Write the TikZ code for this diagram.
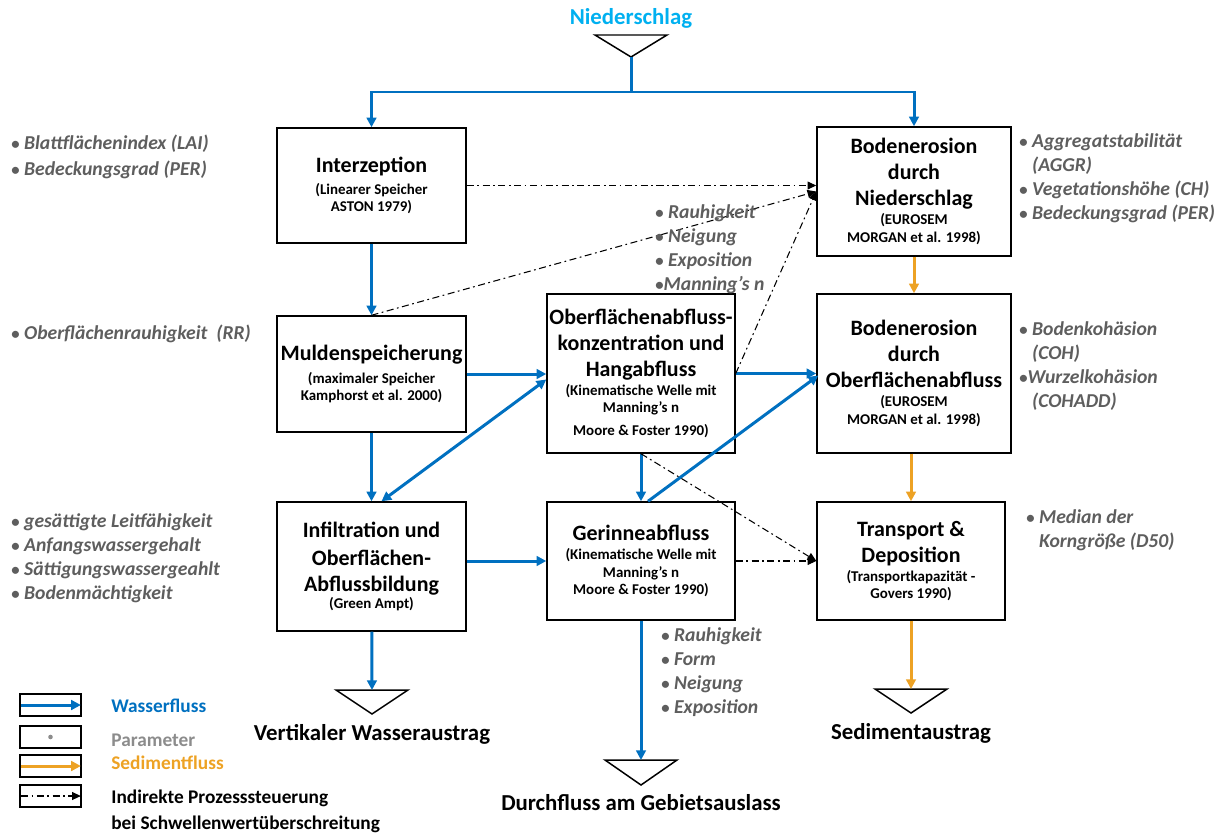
\documentclass[tikz,border=0pt]{standalone}
\usepackage{fontspec}
\setmainfont{Carlito}
\definecolor{WaterBlue}{HTML}{0070C0}
\definecolor{RainCyan}{HTML}{00B0F0}
\definecolor{SedOrange}{HTML}{EDA224}
\definecolor{ParamGray}{HTML}{5E5E5E}
\definecolor{LegendGray}{HTML}{8C8C8C}
\usepackage{tikz}
\usetikzlibrary{arrows.meta, positioning, calc}
\newcommand{\boxtitle}{\fontsize{12.5}{14.8}\selectfont\bfseries}
\newcommand{\boxsub}{\fontsize{8.5}{9.8}\selectfont\bfseries}
\newcommand{\paramfont}{\fontsize{11.2}{13.6}\selectfont\bfseries\itshape}
\newcommand{\pbul}{{\fontsize{9.5}{9.5}\selectfont\upshape\textbullet}\ }
\tikzset{
  % Box styles
  procbox/.style={rectangle, draw=black, line width=0.85pt, fill=white, inner xsep=0pt, inner ysep=0pt, text width=3.78cm, minimum height=2.3cm, align=flush center, font=\boxtitle},
  legbox/.style={rectangle, draw=black, line width=0.85pt, minimum width=1.22cm, minimum height=0.44cm, inner sep=0pt},
  % Arrow styles
  waterarrow/.style={-{Triangle[length=5.5pt,width=5.5pt]}, line width=1.7pt, WaterBlue},
  waterboth/.style={{Triangle[length=5.5pt,width=5.5pt]}-{Triangle[length=5.5pt,width=5.5pt]}, line width=1.7pt, WaterBlue},
  sedarrow/.style={-{Triangle[length=5.5pt,width=5.5pt]}, line width=1.7pt, SedOrange},
  ctrlarrow/.style={-{Triangle[length=5pt,width=4.5pt]}, line width=0.6pt, black, dash pattern=on 4pt off 2pt on 1pt off 2pt},
  % Text styles
  paramlist/.style={anchor=base west, align=left, inner sep=0pt, text=ParamGray, font=\paramfont},
  outlabel/.style={inner sep=0pt, font=\fontsize{13}{15}\selectfont\bfseries},
  legtext/.style={anchor=west, inner sep=0pt, font=\fontsize{11}{14.7}\selectfont\bfseries}
}

\begin{document}
\begin{tikzpicture}[x=0.02cm, y=-0.02cm]
  \useasboundingbox (0,0) rectangle (1226,832);

  % Precipitation input
  \node[outlabel, text=RainCyan] (rain) at (631,18) {Niederschlag};
  \coordinate (rainTop) at (631,35);
  \draw[line width=0.85pt] (rainTop) ++(-36,0) -- ++(72,0) -- ++(-36,22) -- cycle;
  \coordinate (rainApex) at (631,57);
  \coordinate (split) at (631,92);

  % Process boxes
  \node[procbox] (interz) at (371.5,185.5) {Interzeption\par\vspace{3pt}{\boxsub (Linearer Speicher\\ASTON 1979)\par}};
  \node[procbox, minimum height=2.32cm] (mulden) at (371.5,374) {Muldenspeicherung\par\vspace{3pt}{\boxsub (maximaler Speicher\\Kamphorst et al. 2000)\par}};
  \node[procbox, minimum height=2.58cm] (infilt) at (371.5,566.5) {Infiltration und\\[1pt]Oberflächen-\\Abflussbildung\par{\boxsub (Green Ampt)\par}};
  \node[procbox, text width=3.76cm, minimum height=3.18cm] (oberfl) at (641,373.5) {Oberflächenabfluss-\\konzentration und\\Hangabfluss\par\vspace{1pt}{\boxsub (Kinematische Welle mit\\Manning’s n\\[3pt]Moore \& Foster 1990)\par}};
  \node[procbox, text width=3.76cm, minimum height=2.36cm] (gerinne) at (641,561) {Gerinneabfluss\par\vspace{1pt}{\boxsub (Kinematische Welle mit\\Manning’s n\\Moore \& Foster 1990)\par}};
  \node[procbox, text width=3.88cm, minimum height=2.58cm] (bodnied) at (914,191.5) {Bodenerosion\\durch\\Niederschlag\par\vspace{1pt}{\boxsub (EUROSEM\\MORGAN et al. 1998)\par}};
  \node[procbox, text width=3.88cm, minimum height=3.18cm] (bodober) at (914,373.5) {Bodenerosion\\durch\\Oberflächenabfluss\par\vspace{1pt}{\boxsub (EUROSEM\\MORGAN et al. 1998)\par}};
  \node[procbox, text width=3.76cm, minimum height=2.36cm] (transp) at (911,561) {Transport \&\\Deposition\par\vspace{1pt}{\boxsub (Transportkapazität -\\Govers 1990)\par}};

  % Outlets
  \coordinate (vertOut) at (372,690);
  \draw[line width=0.85pt] (vertOut) ++(-36,0) -- ++(72,0) -- ++(-36,24) -- cycle;
  \node[outlabel] (vertLbl) at (372,734) {Vertikaler Wasseraustrag};
  \coordinate (gebOut) at (641,760);
  \draw[line width=0.85pt] (gebOut) ++(-36,0) -- ++(72,0) -- ++(-36,25) -- cycle;
  \node[outlabel] (gebLbl) at (641,803) {Durchfluss am Gebietsauslass};
  \coordinate (sedOut) at (911,689);
  \draw[line width=0.85pt] (sedOut) ++(-36,0) -- ++(72,0) -- ++(-36,24) -- cycle;
  \node[outlabel] (sedLbl) at (911,733) {Sedimentaustrag};

  % Water flow
  \draw[line width=1.7pt, WaterBlue] (rainApex) -- (split);
  \draw[waterarrow] (split) -| (interz.north);
  \draw[waterarrow] (split) -| (bodnied.north);
  \draw[waterarrow] (interz) -- (mulden);
  \draw[waterarrow] (mulden) -- (infilt);
  \draw[waterarrow] (mulden.east) -- (mulden.east -| oberfl.west);
  \draw[waterboth] ($(infilt.north)+(10,0)$) -- ($(oberfl.west)+(0,6)$);
  \draw[waterarrow] (infilt.east |- gerinne.west) -- (gerinne.west);
  \draw[waterarrow] (oberfl) -- (gerinne);
  \draw[waterarrow] ($(gerinne.north)+(7,0)$) -- ($(bodober.west)+(2,2)$);
  \draw[waterarrow] (oberfl.east) -- (bodober.west);
  \draw[waterarrow] (gerinne) -- (gebOut);
  \draw[waterarrow] (infilt) -- (vertOut);

  % Sediment flow
  \draw[sedarrow] (bodnied) -- (bodober);
  \draw[sedarrow] (transp.north |- bodober.south) -- (transp.north);
  \draw[sedarrow] (transp) -- (sedOut);

  % Indirect process control
  \draw[ctrlarrow] (interz.east) -- (interz.east -| bodnied.west);
  \draw[ctrlarrow] (mulden.north) -- (bodnied.west);
  \draw[ctrlarrow] (oberfl.east) -- (bodnied.west);
  \draw[ctrlarrow] (oberfl.south) -- (transp.west);
  \draw[ctrlarrow] (gerinne.east) -- (transp.west);

  % Parameters (base = baseline of the last line)
  \node[paramlist] (parInterz) at (11,175) {\pbul Blattflächenindex (LAI)\\[1pt]\pbul Bedeckungsgrad (PER)};
  \node[paramlist] (parMulden) at (11,339) {\pbul Oberflächenrauhigkeit~~(RR)};
  \node[paramlist] (parInfilt) at (11,599) {\pbul gesättigte Leitfähigkeit\\\pbul Anfangswassergehalt\\\pbul Sättigungswassergeahlt\\\pbul Bodenmächtigkeit};
  \node[paramlist] (parOberfl) at (655,290) {\pbul Rauhigkeit\\\pbul Neigung\\\pbul Exposition\\{\fontsize{9.5}{9.5}\selectfont\upshape\textbullet}Manning’s n};
  \node[paramlist] (parGerinne) at (661,713) {\pbul Rauhigkeit\\\pbul Form\\\pbul Neigung\\\pbul Exposition};
  \node[paramlist] (parBodnied) at (1019,219) {\pbul Aggregatstabilität\\\phantom{\pbul}(AGGR)\\\pbul Vegetationshöhe (CH)\\\pbul Bedeckungsgrad (PER)};
  \node[paramlist] (parBodober) at (1019,407) {\pbul Bodenkohäsion\\\phantom{\pbul}(COH)\\{\fontsize{9.5}{9.5}\selectfont\upshape\textbullet}Wurzelkohäsion\\\phantom{\pbul}(COHADD)};
  \node[paramlist] (parTransp) at (1026,547) {\pbul Median der\\\phantom{\pbul}Korngröße (D50)};

  % Legend
  \foreach \n/\y in {legW/705, legP/737, legS/766, legC/796} {
    \node[legbox] (\n) at (50.5,\y) {};
  }
  \draw[waterarrow] ([xshift=1pt]legW.west) -- ([xshift=-0.5pt]legW.east);
  \fill[LegendGray] (legP.center) circle (1.3pt);
  \draw[sedarrow] ([xshift=1pt]legS.west) -- ([xshift=-0.5pt]legS.east);
  \draw[ctrlarrow] ([xshift=1pt]legC.west) -- ([xshift=-0.5pt]legC.east);
  \node[legtext, text=WaterBlue] (legWtxt) at (111,706) {Wasserfluss};
  \node[legtext, text=LegendGray] (legPtxt) at (111,740) {Parameter};
  \node[legtext, text=SedOrange] (legStxt) at (111,763) {Sedimentfluss};
  \node[legtext, anchor=base west, align=left] (legCtxt) at (111,829) {Indirekte Prozesssteuerung\\bei Schwellenwertüberschreitung};
\end{tikzpicture}
\end{document}
